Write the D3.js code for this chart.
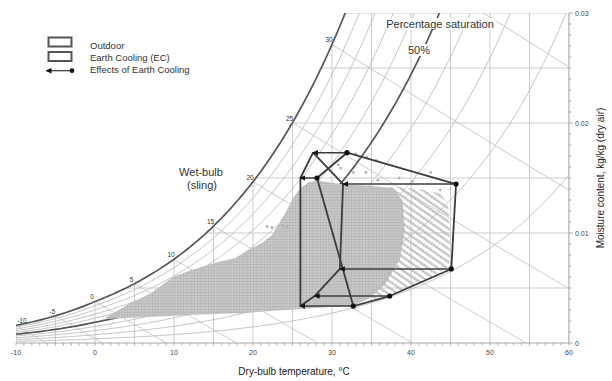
<!DOCTYPE html>
<html>
<head>
<meta charset="utf-8">
<script src="https://cdn.jsdelivr.net/npm/d3@7"></script>
<style>
  body { margin: 0; background: #fff; }
  svg { font-family: "Liberation Sans", Arial, sans-serif; }
</style>
</head>
<body>
<svg id="chart" width="612" height="381"></svg>
<script>
// chart furniture
const pressure = 101.325;          // kPa
const slingCoef = 6.66e-4;         // psychrometer constant, sling
const dryBulbLabels = [-10, 0, 10, 20, 30, 40, 50, 60];
const moistureLabels = [0, 0.01, 0.02, 0.03];
const saturationPercents = [10, 20, 30, 40, 50, 60, 70, 80, 90, 100];
const wetBulbLines = [-10, -5, 0, 5, 10, 15, 20, 25, 30, 35];
const wetBulbLabels = [-10, -5, 0, 5, 10, 15, 20, 25, 30];

// hull corners, outdoor and after earth cooling (same order, arrows join i -> i)
const outdoorDryBulb = [28.1, 31.9, 45.7, 45.1, 37.3, 32.7];
const outdoorMoisture = [0.0150, 0.0173, 0.01445, 0.00673, 0.00427, 0.00336];
const cooledDryBulb = [26.0, 27.6, 31.4, 31.0, 27.8, 26.0];
const cooledMoisture = [0.0150, 0.0173, 0.01445, 0.00673, 0.00427, 0.00336];

// outline of the hourly data cloud [dry-bulb, moisture]
const denseCloud = [
  [1.3, 0.0023], [2.5, 0.0028], [4.4, 0.0036], [7.0, 0.0045], [9.9, 0.0060], [12.0, 0.0066],
  [15.2, 0.0073], [17.7, 0.0077], [19.6, 0.0085], [21.1, 0.0091], [22.4, 0.0098], [23.4, 0.0110],
  [24.3, 0.0121], [25.1, 0.0132], [26.0, 0.0141], [27.0, 0.0146], [28.2, 0.0148], [29.7, 0.0146],
  [31.6, 0.0144], [34.8, 0.0143], [37.6, 0.0141], [38.9, 0.0130], [39.2, 0.0103], [38.6, 0.0076],
  [36.7, 0.0053], [34.8, 0.0041], [32.7, 0.0034], [28.5, 0.0032], [26.0, 0.0031], [22.2, 0.0029],
  [18.4, 0.0027], [13.3, 0.0026], [8.2, 0.0024], [4.4, 0.0023], [1.9, 0.0022]
];
const sparseCloud = [
  [37.3, 0.0142], [41.1, 0.0140], [43.7, 0.0136], [44.7, 0.0126], [44.9, 0.0103], [44.9, 0.0070],
  [42.4, 0.0059], [38.6, 0.0046], [34.8, 0.0039], [36.1, 0.0053], [38.4, 0.0074], [39.0, 0.0103],
  [38.6, 0.0130]
];
const strayDryBulb = [33.0, 30.8, 31.1, 32.7, 34.3, 34.4, 35.6, 35.8, 42.5, 43.7, 21.8, 22.4, 23.7, 24.3, 38.5, 40.2];
const strayMoisture = [0.0172, 0.0162, 0.0159, 0.0155, 0.0155, 0.0169, 0.0166, 0.0148, 0.0155, 0.0139, 0.0106, 0.0105, 0.0107, 0.0105, 0.0150, 0.0147];

// psychrometrics
function psat(t) {
  return t >= 0 ? 0.61094 * Math.exp(17.625 * t / (t + 243.04))
                : 0.61115 * Math.exp(22.452 * t / (272.55 + t));
}
function wFromPv(pv) { return 0.622 * pv / (pressure - pv); }
function wSat(t) { return wFromPv(psat(t)); }
function tSat(w) {
  const pv = w * pressure / (0.622 + w);
  if (pv >= 0.61094) { const a = Math.log(pv / 0.61094); return 243.04 * a / (17.625 - a); }
  const a = Math.log(pv / 0.61115);
  return 272.55 * a / (22.452 - a);
}

const svg = d3.select("#chart");
const x = d3.scaleLinear().domain([-10, 60]).range([16, 569]);
const y = d3.scaleLinear().domain([0, 0.03]).range([343, 13]);

const defs = svg.append("defs");
defs.append("clipPath").attr("id", "plot")
  .append("rect").attr("x", x(-10)).attr("y", y(0.03))
  .attr("width", x(60) - x(-10)).attr("height", y(0) - y(0.03));

const dense = defs.append("pattern").attr("id", "dense")
  .attr("patternUnits", "userSpaceOnUse").attr("width", 2.8).attr("height", 2.8);
dense.append("rect").attr("width", 2.8).attr("height", 2.8).attr("fill", "#d4d4d4");
dense.append("circle").attr("cx", 1.4).attr("cy", 1.4).attr("r", 1.2).attr("fill", "#b2b2b2");

const sparse = defs.append("pattern").attr("id", "sparse")
  .attr("patternUnits", "userSpaceOnUse").attr("width", 3).attr("height", 5.5)
  .attr("patternTransform", "rotate(35)");
sparse.append("circle").attr("cx", 1.5).attr("cy", 1.5).attr("r", 1.3).attr("fill", "#b4b4b4");

defs.append("marker").attr("id", "head")
  .attr("viewBox", "0 -3 6 6").attr("refX", 5).attr("refY", 0)
  .attr("markerUnits", "userSpaceOnUse").attr("markerWidth", 6).attr("markerHeight", 6)
  .attr("orient", "auto")
  .append("path").attr("d", "M0,-2.8L6,0L0,2.8Z").attr("fill", "#111");

const plot = svg.append("g").attr("clip-path", "url(#plot)");
const line = d3.line().x(d => x(d[0])).y(d => y(d[1]));

// grid: verticals up to saturation, horizontals from saturation
plot.selectAll(".vgrid").data(d3.range(-10, 61, 5)).enter().append("line")
  .attr("x1", d => x(d)).attr("x2", d => x(d))
  .attr("y1", y(0)).attr("y2", d => y(Math.min(wSat(d), 0.03)))
  .attr("stroke", "#cdcdcd").attr("stroke-width", 1);
plot.selectAll(".hgrid").data(d3.range(0.005, 0.0301, 0.005)).enter().append("line")
  .attr("x1", d => x(tSat(d))).attr("x2", x(60))
  .attr("y1", d => y(d)).attr("y2", d => y(d))
  .attr("stroke", "#cdcdcd").attr("stroke-width", 1);

// wet-bulb (sling) lines
plot.selectAll(".wb").data(wetBulbLines).enter().append("path")
  .attr("d", twb => {
    const ps = psat(twb);
    const tEnd = twb + ps / (slingCoef * pressure);
    return line(d3.range(0, 41).map(i => {
      const t = twb + (tEnd - twb) * i / 40;
      return [t, wFromPv(Math.max(0, ps - slingCoef * pressure * (t - twb)))];
    }));
  })
  .attr("fill", "none").attr("stroke", "#c4c4c4").attr("stroke-width", 0.9);

// percentage saturation curves
const temps = d3.range(-10, 60.01, 0.25);
plot.selectAll(".rh").data(saturationPercents).enter().append("path")
  .attr("d", p => line(temps.map(t => [t, p / 100 * wSat(t)])))
  .attr("fill", "none")
  .attr("stroke", p => (p === 100 || p === 50) ? "#555" : "#bdbdbd")
  .attr("stroke-width", p => (p === 100 || p === 50) ? 1.7 : 0.9);

// axes
svg.append("line").attr("x1", x(-10)).attr("x2", x(60)).attr("y1", y(0)).attr("y2", y(0))
  .attr("stroke", "#aaa");
svg.append("line").attr("x1", x(60)).attr("x2", x(60)).attr("y1", y(0)).attr("y2", y(0.03))
  .attr("stroke", "#aaa");
svg.selectAll(".xt").data(d3.range(-10, 61, 1)).enter().append("line")
  .attr("x1", d => x(d)).attr("x2", d => x(d)).attr("y1", y(0)).attr("y2", y(0) + 2.5)
  .attr("stroke", "#999").attr("stroke-width", 0.8);
svg.selectAll(".yt").data(d3.range(0, 31, 1)).enter().append("line")
  .attr("x1", x(60)).attr("x2", d => x(60) + (d % 10 === 0 ? 4 : 2.5))
  .attr("y1", d => y(d / 1000)).attr("y2", d => y(d / 1000))
  .attr("stroke", "#999").attr("stroke-width", 0.8);
svg.selectAll(".xl").data(dryBulbLabels).enter().append("text")
  .attr("x", d => x(d)).attr("y", y(0) + 12)
  .attr("text-anchor", "middle").attr("font-size", 7).attr("fill", "#444")
  .text(d => d);
svg.selectAll(".yl").data(moistureLabels).enter().append("text")
  .attr("x", x(60) + 6).attr("y", d => y(d) + 2.5)
  .attr("font-size", 7).attr("fill", "#444")
  .text(d => d);

// data cloud
svg.append("path").attr("d", line(denseCloud) + "Z").attr("fill", "url(#dense)");
svg.append("path").attr("d", line(sparseCloud) + "Z").attr("fill", "url(#sparse)");
svg.selectAll(".stray").data(strayDryBulb).enter().append("circle")
  .attr("cx", d => x(d)).attr("cy", (d, i) => y(strayMoisture[i])).attr("r", 1.4)
  .attr("fill", "#b4b4b4");

// hulls
const outdoor = outdoorDryBulb.map((t, i) => [t, outdoorMoisture[i]]);
const cooled = cooledDryBulb.map((t, i) => [t, cooledMoisture[i]]);
[outdoor, cooled].forEach(pts => {
  svg.append("path").attr("d", line(pts) + "Z")
    .attr("fill", "none").attr("stroke", "#3c3c3c").attr("stroke-width", 1.8)
    .attr("stroke-linejoin", "round");
});
svg.selectAll(".arrow").data(outdoor).enter().append("line")
  .attr("x1", d => x(d[0])).attr("y1", d => y(d[1]))
  .attr("x2", (d, i) => x(cooled[i][0])).attr("y2", (d, i) => y(cooled[i][1]))
  .attr("stroke", "#3c3c3c").attr("stroke-width", 1.5).attr("marker-end", "url(#head)");
svg.selectAll(".odot").data(outdoor).enter().append("circle")
  .attr("cx", d => x(d[0])).attr("cy", d => y(d[1])).attr("r", 2.6).attr("fill", "#111");

// labels on the chart
svg.selectAll(".wbl").data(wetBulbLabels).enter().append("text")
  .attr("x", d => Math.max(x(d) - 3, x(-10) + 6)).attr("y", d => y(wSat(d)) - 2)
  .attr("text-anchor", "middle").attr("font-size", 6.5).attr("fill", "#333")
  .text(d => d);

function boxedText(tx, ty, str, size) {
  const g = svg.append("g");
  const t = g.append("text").attr("x", tx).attr("y", ty)
    .attr("text-anchor", "middle").attr("font-size", size).attr("fill", "#333").text(str);
  const b = t.node().getBBox();
  g.insert("rect", "text").attr("x", b.x - 2).attr("y", b.y).attr("width", b.width + 4)
    .attr("height", b.height).attr("fill", "#fff");
}
boxedText(440, 28, "Percentage saturation", 11);
boxedText(419, 54, "50%", 11);

svg.append("text").attr("x", 201).attr("y", 176).attr("text-anchor", "middle")
  .attr("font-size", 11).attr("fill", "#333").text("Wet-bulb");
svg.append("text").attr("x", 202).attr("y", 189).attr("text-anchor", "middle")
  .attr("font-size", 11).attr("fill", "#333").text("(sling)");

svg.append("text").attr("x", 294).attr("y", 375).attr("text-anchor", "middle")
  .attr("font-size", 10).attr("fill", "#222").text("Dry-bulb temperature, °C");
svg.append("text").attr("transform", "translate(604,178) rotate(-90)")
  .attr("text-anchor", "middle").attr("font-size", 10).attr("fill", "#222")
  .text("Moisture content, kg/kg (dry air)");

// legend
const legend = svg.append("g").attr("class", "legend");
legend.append("rect").attr("x", 48.5).attr("y", 37.5).attr("width", 23).attr("height", 9)
  .attr("fill", "#fff").attr("stroke", "#555").attr("stroke-width", 2);
legend.append("rect").attr("x", 48.5).attr("y", 52).attr("width", 23).attr("height", 9)
  .attr("fill", "#fff").attr("stroke", "#555").attr("stroke-width", 2);
legend.append("line").attr("x1", 72).attr("x2", 46.5).attr("y1", 70.7).attr("y2", 70.7)
  .attr("stroke", "#333").attr("stroke-width", 1.2).attr("marker-end", "url(#head)");
legend.append("circle").attr("cx", 72).attr("cy", 70.7).attr("r", 2.4).attr("fill", "#111");
["Outdoor", "Earth Cooling (EC)", "Effects of Earth Cooling"].forEach((s, i) => {
  legend.append("text").attr("x", 90).attr("y", 48.5 + i * 12.3)
    .attr("font-size", 9.5).attr("fill", "#333").text(s);
});
</script>
</body>
</html>
